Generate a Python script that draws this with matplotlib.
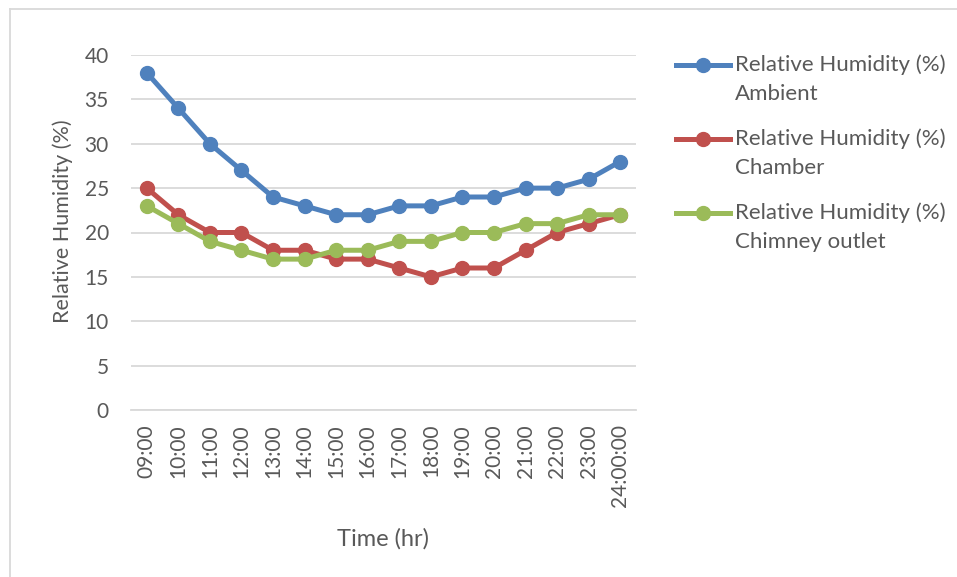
import matplotlib.pyplot as plt
from matplotlib.lines import Line2D

# Hourly readings
times = ['09:00', '10:00', '11:00', '12:00', '13:00', '14:00', '15:00', '16:00',
         '17:00', '18:00', '19:00', '20:00', '21:00', '22:00', '23:00', '24:00:00']
ambient = [38, 34, 30, 27, 24, 23, 22, 22, 23, 23, 24, 24, 25, 25, 26, 28]
chamber = [25, 22, 20, 20, 18, 18, 17, 17, 16, 15, 16, 16, 18, 20, 21, 22]
chimney = [23, 21, 19, 18, 17, 17, 18, 18, 19, 19, 20, 20, 21, 21, 22, 22]

series = [
    ('Relative Humidity (%)\nAmbient', ambient, '#4F81BD'),
    ('Relative Humidity (%)\nChamber', chamber, '#C0504D'),
    ('Relative Humidity (%)\nChimney outlet', chimney, '#9BBB59'),
]

plt.rcParams['font.family'] = ['Lato', 'DejaVu Sans']
txt = '#595959'

W, H = 957, 577
fig = plt.figure(figsize=(W / 100, H / 100), dpi=100)
ax = fig.add_axes([131 / W, 1 - 410 / H, 505 / W, 355 / H])

x = list(range(len(times)))
for label, vals, col in series:
    ax.plot(x, vals, color=col, lw=3.6, marker='o', ms=10, zorder=3,
            solid_capstyle='round')

ax.set_xlim(-0.5, len(times) - 0.5)
ax.set_ylim(0, 40)
ax.set_yticks(range(0, 41, 5))
ax.set_xticks(x)
ax.set_xticklabels(times, rotation=90)
ax.grid(axis='y', color='#D9D9D9', lw=1.3)
ax.set_axisbelow(True)
for s in ['top', 'right', 'left']:
    ax.spines[s].set_visible(False)
ax.spines['bottom'].set_color('#D9D9D9')
ax.spines['bottom'].set_linewidth(1.3)
ax.tick_params(axis='both', length=0, labelsize=15, colors=txt)
ax.tick_params(axis='y', pad=16)
ax.tick_params(axis='x', pad=10)

fig.text(63 / W, 1 - 221 / H, 'Relative Humidity (%)', rotation=90,
         ha='center', va='center', fontsize=15.5, color=txt)
fig.text(383 / W, 1 - 539 / H, 'Time (hr)', ha='center', va='center',
         fontsize=17, color=txt)

# Legend drawn at the right of the plot area
for i, (label, vals, col) in enumerate(series):
    y0 = 1 - (65 + 74 * i) / H
    fig.add_artist(Line2D([676 / W, 730 / W], [y0, y0], color=col, lw=3.6,
                          transform=fig.transFigure))
    fig.add_artist(Line2D([703 / W], [y0], color=col, marker='o', ms=10,
                          transform=fig.transFigure))
    fig.text(735 / W, y0 + 11 / H, label, ha='left', va='top', fontsize=16,
             color=txt, linespacing=1.6)

# Outer frame
fig.add_artist(Line2D([10 / W, 10 / W], [0, 1 - 9 / H], color='#D9D9D9', lw=1.3,
                      transform=fig.transFigure))
fig.add_artist(Line2D([10 / W, 1], [1 - 9 / H, 1 - 9 / H], color='#D9D9D9', lw=1.3,
                      transform=fig.transFigure))

fig.savefig('out.png', dpi=100)
